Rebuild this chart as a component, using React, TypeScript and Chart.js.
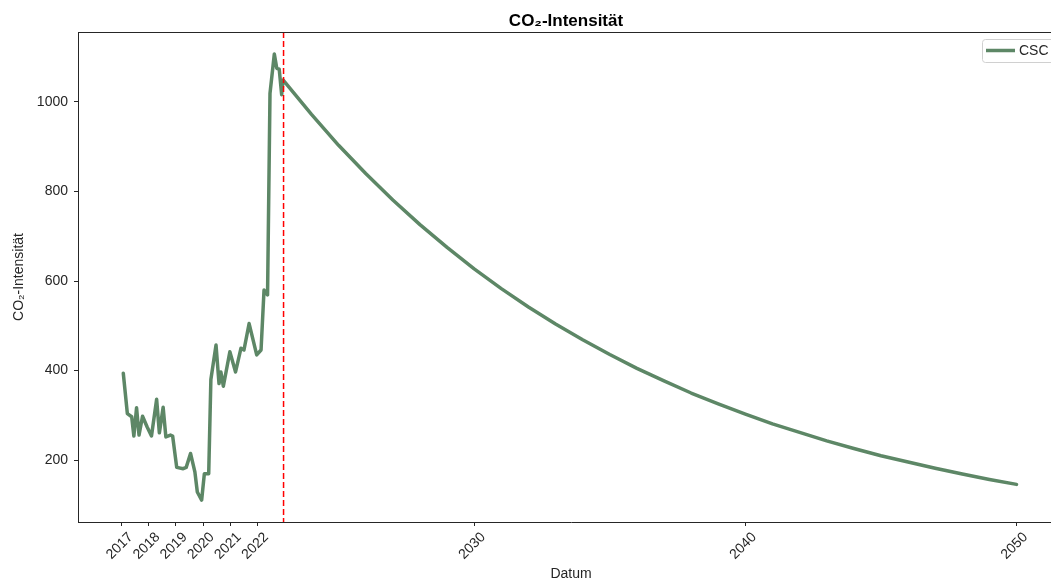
import React, { useEffect, useRef } from "react";
import { Chart, registerables } from "chart.js";

Chart.register(...registerables);

// Historical values (decimal year, CO2 intensity)
const histYears = [
  2017.06, 2017.21, 2017.37, 2017.45, 2017.55, 2017.64, 2017.77, 2017.94,
  2018.10, 2018.29, 2018.39, 2018.53, 2018.63, 2018.80, 2018.88, 2019.03,
  2019.27, 2019.38, 2019.54, 2019.70, 2019.79, 2019.95, 2020.05, 2020.21,
  2020.29, 2020.48, 2020.59, 2020.66, 2020.75, 2020.99, 2021.20, 2021.40,
  2021.51, 2021.70, 2021.98, 2022.14, 2022.25, 2022.38, 2022.47, 2022.63,
  2022.72, 2022.81, 2022.90, 2022.95,
];
const histValues = [
  394, 304, 297, 254, 317, 256, 298, 274,
  254, 336, 261, 318, 252, 256, 254, 184,
  181, 184, 215, 174, 129, 111, 170, 170,
  380, 457, 371, 397, 365, 442, 397, 450,
  446, 505, 435, 446, 580, 569, 1019, 1107,
  1075, 1073, 1016, 1049,
];

// Projection values
const projYears = [
  2024, 2025, 2026, 2027, 2028, 2029, 2030, 2031, 2032, 2033, 2034, 2035,
  2036, 2037, 2038, 2039, 2040, 2041, 2042, 2043, 2044, 2045, 2046, 2047,
  2048, 2049, 2050,
];
const projValues = [
  972, 903, 840, 781, 726, 675, 627, 583, 542, 504, 469, 436,
  405, 377, 350, 326, 303, 281, 262, 243, 226, 210, 196, 182,
  169, 157, 146,
];

const xTickValues = [2017, 2018, 2019, 2020, 2021, 2022, 2030, 2040, 2050];
const yTickValues = [200, 400, 600, 800, 1000];
const cutoffYear = 2022.97;

const seriesLabel = "CSC";
const titleText = "CO₂-Intensität";
const yAxisTitle = "CO₂-Intensität";
const xAxisTitle = "Datum";

const FONT = "'Liberation Sans', Arial, sans-serif";
const LINE_COLOR = "#5d8766";
const AXIS_COLOR = "#262626";

export default function App() {
  const ref = useRef<HTMLCanvasElement | null>(null);

  useEffect(() => {
    const canvas = ref.current;
    if (!canvas) return;
    const points = [
      ...histYears.map((x, i) => ({ x, y: histValues[i] })),
      ...projYears.map((x, i) => ({ x, y: projValues[i] })),
    ];

    const extras = {
      id: "extras",
      afterDatasetsDraw(chart: any) {
        const { ctx, chartArea, scales } = chart;
        ctx.save();
        // red dashed cutoff line
        const xp = scales.x.getPixelForValue(cutoffYear);
        ctx.strokeStyle = "#ff0000";
        ctx.lineWidth = 1.5;
        ctx.setLineDash([6, 3]);
        ctx.beginPath();
        ctx.moveTo(xp, chartArea.top);
        ctx.lineTo(xp, chartArea.bottom);
        ctx.stroke();
        ctx.setLineDash([]);
        // top spine
        ctx.strokeStyle = AXIS_COLOR;
        ctx.lineWidth = 1;
        ctx.beginPath();
        ctx.moveTo(chartArea.left, chartArea.top + 0.5);
        ctx.lineTo(chartArea.right, chartArea.top + 0.5);
        ctx.stroke();
        // right spine
        ctx.beginPath();
        ctx.moveTo(chartArea.right - 0.5, chartArea.top);
        ctx.lineTo(chartArea.right - 0.5, chartArea.bottom);
        ctx.stroke();
        // rotated x tick labels, centred under each tick
        ctx.fillStyle = AXIS_COLOR;
        ctx.font = `14px ${FONT}`;
        ctx.textAlign = "center";
        ctx.textBaseline = "middle";
        for (const v of xTickValues) {
          const px = scales.x.getPixelForValue(v);
          ctx.save();
          ctx.translate(px - 2, chartArea.bottom + 24);
          ctx.rotate(-Math.PI / 4);
          ctx.fillText(String(v), 0, 0);
          ctx.restore();
        }
        // legend
        const bx = 982.5, by = 39.5, bw = 90, bh = 23;
        ctx.fillStyle = "rgba(255,255,255,0.8)";
        ctx.strokeStyle = "#d0d0d0";
        ctx.lineWidth = 1;
        ctx.beginPath();
        (ctx as any).roundRect(bx, by, bw, bh, 3);
        ctx.fill();
        ctx.stroke();
        ctx.strokeStyle = LINE_COLOR;
        ctx.lineWidth = 3.5;
        ctx.beginPath();
        ctx.moveTo(986, 50.5);
        ctx.lineTo(1015, 50.5);
        ctx.stroke();
        ctx.fillStyle = AXIS_COLOR;
        ctx.font = `14px ${FONT}`;
        ctx.textAlign = "left";
        ctx.textBaseline = "middle";
        ctx.fillText(seriesLabel, 1019, 51);
        // title
        ctx.font = `bold 17px ${FONT}`;
        ctx.textAlign = "center";
        ctx.fillStyle = "#000";
        ctx.fillText(titleText, (chartArea.left + chartArea.right) / 2 - 5, 21);
        ctx.restore();
      },
    };

    const chart = new Chart(canvas, {
      type: "line",
      data: {
        datasets: [
          {
            label: seriesLabel,
            data: points,
            borderColor: LINE_COLOR,
            backgroundColor: LINE_COLOR,
            borderWidth: 3.5,
            pointRadius: 0,
            tension: 0,
            borderJoinStyle: "round",
            borderCapStyle: "round",
          },
        ],
      },
      options: {
        responsive: false,
        animation: false,
        layout: { padding: { top: 32, right: 36, left: 0, bottom: 0 } },
        plugins: {
          legend: { display: false },
          title: { display: false },
          tooltip: { enabled: false },
        },
        scales: {
          x: {
            type: "linear",
            min: 2015.39,
            max: 2051.75,
            afterFit(scale: any) {
              scale.height = 61;
            },
            afterBuildTicks(scale: any) {
              scale.ticks = xTickValues.map((v) => ({ value: v }));
            },
            ticks: {
              display: false,
              autoSkip: false,
            },
            grid: {
              drawOnChartArea: false,
              drawTicks: true,
              tickLength: 4,
              color: AXIS_COLOR,
            },
            border: { display: true, color: AXIS_COLOR, width: 1 },
            title: {
              display: true,
              text: xAxisTitle,
              color: AXIS_COLOR,
              font: { family: FONT, size: 14 },
              padding: { top: 0, bottom: 0 },
            },
          },
          y: {
            type: "linear",
            min: 62,
            max: 1156,
            afterFit(scale: any) {
              scale.width = 78;
            },
            afterBuildTicks(scale: any) {
              scale.ticks = yTickValues.map((v) => ({ value: v }));
            },
            ticks: {
              padding: 6,
              color: AXIS_COLOR,
              font: { family: FONT, size: 14 },
              callback: (v: any) => String(v),
            },
            grid: {
              drawOnChartArea: false,
              drawTicks: true,
              tickLength: 4,
              color: AXIS_COLOR,
            },
            border: { display: true, color: AXIS_COLOR, width: 1 },
            title: {
              display: true,
              text: yAxisTitle,
              color: AXIS_COLOR,
              font: { family: FONT, size: 14 },
              padding: { top: 11, bottom: 0 },
            },
          },
        },
      },
      plugins: [extras],
    });
    return () => chart.destroy();
  }, []);

  return (
    <div
      style={{
        position: "fixed",
        left: 0,
        top: 0,
        width: 1051,
        height: 583,
        overflow: "hidden",
        background: "#fff",
      }}
    >
      <canvas ref={ref} width={1100} height={583} style={{ display: "block" }} />
    </div>
  );
}
